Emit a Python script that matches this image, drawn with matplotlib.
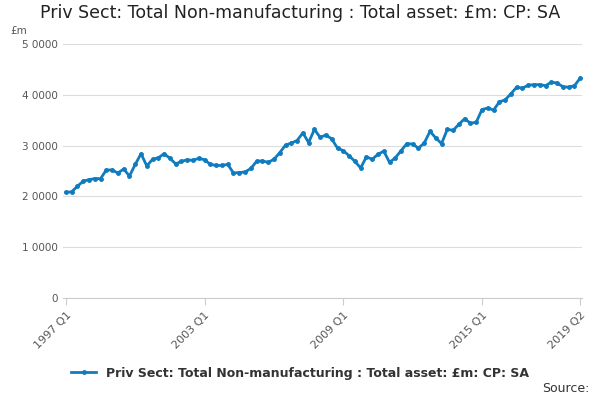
import matplotlib.pyplot as plt
import numpy as np

values = [20.8, 20.9, 22.0, 23.0, 23.3, 23.5, 23.5, 25.2, 25.2, 24.6, 25.4, 24.0,
          26.3, 28.4, 26.0, 27.3, 27.6, 28.4, 27.5, 26.4, 26.9, 27.2, 27.1, 27.5,
          27.2, 26.3, 26.1, 26.1, 26.3, 24.6, 24.7, 24.8, 25.5, 26.9, 27.0, 26.7,
          27.3, 28.6, 30.1, 30.5, 31.0, 32.5, 30.6, 33.2, 31.6, 32.1, 31.3, 29.5,
          29.0, 28.0, 26.9, 25.6, 27.8, 27.3, 28.3, 28.9, 26.7, 27.6, 29.0, 30.4,
          30.3, 29.5, 30.5, 32.8, 31.5, 30.4, 33.2, 33.0, 34.2, 35.3, 34.4, 34.6,
          37.1, 37.4, 37.0, 38.6, 39.0, 40.2, 41.5, 41.3, 41.9, 42.0, 42.0, 41.8,
          42.5, 42.3, 41.6, 41.5, 41.8, 43.3]
values = [v * 1000 for v in values]
labels = ["%d Q%d" % (1997 + i // 4, i % 4 + 1) for i in range(len(values))]
tick_labels = ["1997 Q1", "2003 Q1", "2009 Q1", "2015 Q1", "2019 Q2"]
yticks = [0, 10000, 20000, 30000, 40000, 50000]

fig = plt.figure(figsize=(6, 4), dpi=100)
ax = fig.add_axes([0.105, 0.255, 0.865, 0.635])
x = np.arange(len(values))
line, = ax.plot(x, values, color="#0f7cbf", lw=2, marker="o", ms=2.5,
                label="Priv Sect: Total Non-manufacturing : Total asset: £m: CP: SA")

ax.set_ylim(0, 50000)
ax.set_xlim(-0.5, len(values) - 0.7)
ax.set_yticks(yticks)
ax.set_yticklabels([("%d" % v).replace("000", " 000") if v else "0" for v in yticks],
                   fontsize=7.5, color="#555555")
ax.set_xticks([labels.index(t) for t in tick_labels])
ax.set_xticklabels(tick_labels, rotation=45, ha="right", rotation_mode="anchor",
                   fontsize=8, color="#555555")
ax.grid(axis="y", color="#dddddd", lw=0.8)
ax.set_axisbelow(True)
for s in ["top", "right", "left"]:
    ax.spines[s].set_visible(False)
ax.spines["bottom"].set_color("#cccccc")
ax.tick_params(axis="y", length=0)
ax.tick_params(axis="x", color="#cccccc", length=5)

fig.text(0.5, 0.955, "Priv Sect: Total Non-manufacturing : Total asset: £m: CP: SA",
         ha="center", fontsize=12.5, color="#222222")
fig.text(0.018, 0.915, "£m", fontsize=7.5, color="#555555")
fig.legend(handles=[line], loc="center", bbox_to_anchor=(0.5, 0.067), frameon=False,
           prop={"size": 9, "weight": "bold"}, labelcolor="#333333", handlelength=2)
fig.text(0.982, 0.02, "Source:", ha="right", fontsize=9, color="#333333")

fig.savefig("out.png")
